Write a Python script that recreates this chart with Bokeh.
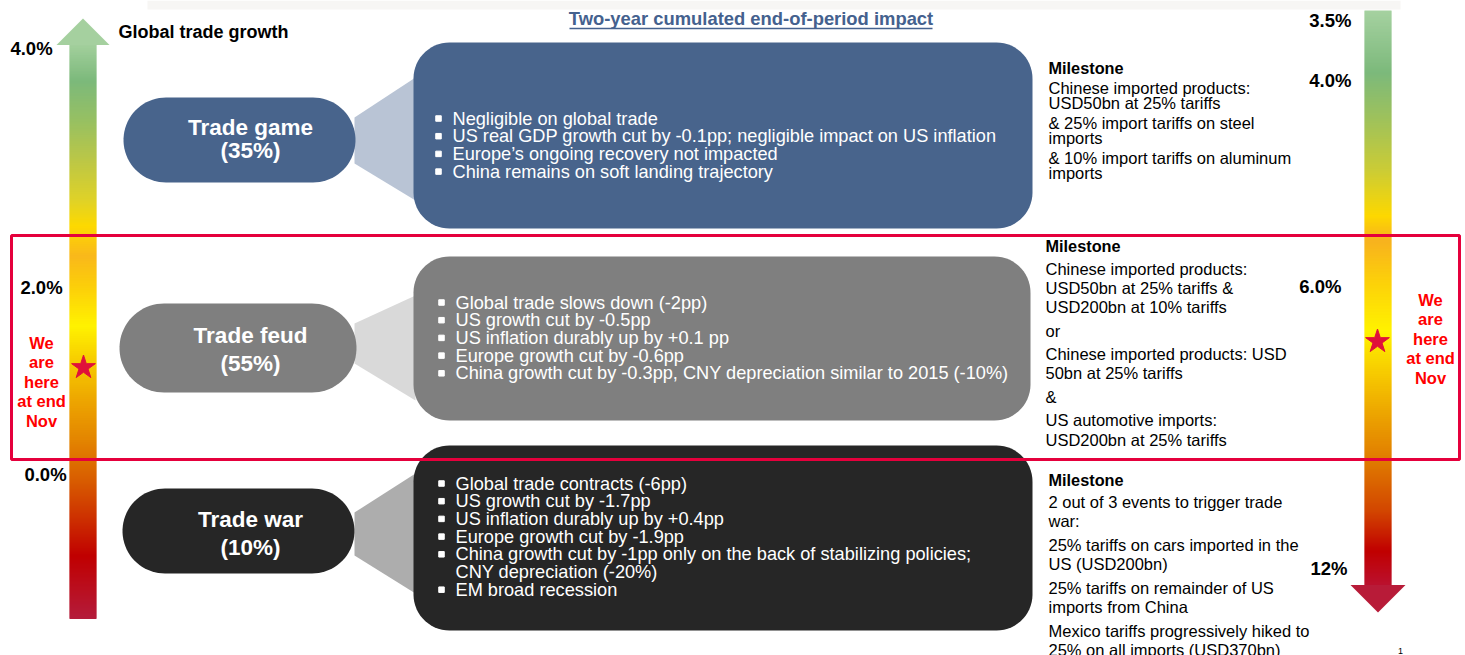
import numpy as np
from bokeh.plotting import figure
from bokeh.models import Range1d
from bokeh.embed import file_html
from bokeh.resources import INLINE
from bokeh.core.properties import value

# ---------------- data ----------------
title_text = "Two-year cumulated end-of-period impact"
axis_title = "Global trade growth"
scenarios = ["Trade game", "Trade feud", "Trade war"]
probabilities = ["(35%)", "(55%)", "(10%)"]
impacts = [
    ["Negligible on global trade",
     "US real GDP growth cut by -0.1pp; negligible impact on US inflation",
     "Europe\u2019s ongoing recovery not impacted",
     "China remains on soft landing trajectory"],
    ["Global trade slows down (-2pp)",
     "US growth cut by -0.5pp",
     "US inflation durably up by +0.1 pp",
     "Europe growth cut by -0.6pp",
     "China growth cut by -0.3pp, CNY depreciation similar to 2015 (-10%)"],
    ["Global trade contracts (-6pp)",
     "US growth cut by -1.7pp",
     "US inflation durably up by +0.4pp",
     "Europe growth cut by -1.9pp",
     "China growth cut by -1pp only on the back of stabilizing policies;\nCNY depreciation  (-20%)",
     "EM broad recession"],
]
milestone_head = "Milestone"
milestones = [
    [["Chinese imported products:", "USD50bn at 25% tariffs"],
     ["& 25% import tariffs on steel", "imports"],
     ["& 10% import tariffs on aluminum", "imports"]],
    [["Chinese imported products:", "USD50bn at 25% tariffs &", "USD200bn at 10% tariffs"],
     ["or"],
     ["Chinese imported products: USD", "50bn at 25% tariffs"],
     ["&"],
     ["US automotive imports:", "USD200bn at 25% tariffs"]],
    [["2 out of 3 events to trigger trade", "war:"],
     ["25% tariffs on cars imported in the", "US (USD200bn)"],
     ["25% tariffs on remainder of US", "imports from China"],
     ["Mexico tariffs progressively hiked to", "25% on all imports (USD370bn)"]],
]
left_scale = ["4.0%", "2.0%", "0.0%"]
right_scale = ["3.5%", "4.0%", "6.0%", "12%"]
here_text = ["We", "are", "here", "at end", "Nov"]
page_no = "1"

# ---------------- styles / layout ----------------
FONT = value("Liberation Sans")
pill_colors = ["#48648c", "#7f7f7f", "#262626"]
conn_colors = ["#b9c4d5", "#d9d9d9", "#adadad"]
box_colors = ["#48648c", "#7f7f7f", "#262626"]
RED = "#e5003c"
STAR = "#e0103a"

pills = [(123, 355, 97, 182), (119, 356, 303, 392), (122, 354, 488, 573)]
pill_text_x = 250
pill_offsets = [(-12.5, 10.5), (-12.5, 15.5), (-11.5, 16.5)]
conns = [((117, 163), (77, 200)), ((323, 363), (295, 400)), ((512, 555), (473, 593))]
boxes = [(413, 1032, 42, 228), (413, 1030, 256, 420), (413, 1032, 445, 630)]
bullet_start = [118, 302, 483]
bullet_text_x = [452, 455, 455]
ms_x = [1048, 1045, 1048]
ms_head_y = [67, 245, 479]
ms_first_gap = [20, 23, 22]
ms_line = [15, 19.3, 19.0]
ms_par_gap = [20, 23.5, 24]

W, H = 1465, 655
p = figure(width=W, height=H, output_backend="svg", toolbar_location=None,
           x_range=Range1d(0, W), y_range=Range1d(H, 0),
           x_axis_location=None, y_axis_location=None, min_border=0)
p.grid.visible = False
p.outline_line_color = None
p.background_fill_color = "white"
p.border_fill_color = "white"


def hex2rgb(h):
    h = h.lstrip("#")
    return np.array([int(h[i:i + 2], 16) for i in (0, 2, 4)], dtype=float)


def ramp(stops, ys):
    sy = np.array([s[0] for s in stops], dtype=float)
    cols = np.array([hex2rgb(s[1]) for s in stops])
    out = []
    for y in ys:
        c = [np.interp(y, sy, cols[:, k]) for k in range(3)]
        out.append("#%02x%02x%02x" % tuple(int(round(v)) for v in c))
    return out


def stadium(x0, x1, y0, y1, n=40):
    r = (y1 - y0) / 2.0
    cy = (y0 + y1) / 2.0
    a = np.linspace(-np.pi / 2, np.pi / 2, n)
    xr = (x1 - r) + r * np.cos(a)
    yr = cy + r * np.sin(a)
    a2 = np.linspace(np.pi / 2, 3 * np.pi / 2, n)
    xl = (x0 + r) + r * np.cos(a2)
    yl = cy + r * np.sin(a2)
    return list(np.r_[xr, xl]), list(np.r_[yr, yl])


def rrect(x0, x1, y0, y1, r, n=16):
    xs, ys = [], []
    for cx, cy, a0 in [(x1 - r, y0 + r, -np.pi / 2), (x1 - r, y1 - r, 0),
                       (x0 + r, y1 - r, np.pi / 2), (x0 + r, y0 + r, np.pi)]:
        a = np.linspace(a0, a0 + np.pi / 2, n)
        xs += list(cx + r * np.cos(a))
        ys += list(cy + r * np.sin(a))
    return xs, ys


# top light band
p.quad(left=147, right=1400, top=0, bottom=9, fill_color="#f7f6f4", line_color=None)

# ---------------- gradient arrows ----------------
left_stops = [(44, "#a2cf9c"), (80, "#7cb97b"), (120, "#97c062"), (160, "#bcc746"),
              (200, "#e0d227"), (225, "#fdd900"), (255, "#f9b81b"), (285, "#fcce0a"),
              (325, "#fff200"), (360, "#f7cc00"), (400, "#eda500"), (440, "#e38400"),
              (480, "#d85c00"), (520, "#cc2d00"), (555, "#c00000"), (618, "#b41c3c")]
ys = np.arange(44, 618, 1.0)
p.quad(left=69, right=96, top=ys, bottom=ys + 1.6, fill_color=ramp(left_stops, ys), line_color=None)
p.patch([56, 82.5, 109], [44.5, 18, 44.5], fill_color="#a5d09f", line_color=None)

right_stops = [(10, "#a5d1a0"), (72, "#7cb97b"), (120, "#a0c25a"), (170, "#cccc35"),
               (215, "#fdd800"), (240, "#f7b21e"), (280, "#fcd00a"), (330, "#fff200"),
               (380, "#f5c300"), (430, "#e89500"), (460, "#e07b00"), (510, "#d24600"),
               (550, "#c00000"), (585, "#ba1230")]
ys2 = np.arange(10, 585, 1.0)
p.quad(left=1364, right=1391, top=ys2, bottom=ys2 + 1.6, fill_color=ramp(right_stops, ys2), line_color=None)
p.patch([1350, 1377.5, 1405], [584.5, 612, 584.5], fill_color="#b81b38", line_color=None)

# ---------------- connectors, pills, boxes ----------------
p.patches([[354, 415, 415, 354] for _ in conns],
          [[c[0][0], c[1][0], c[1][1], c[0][1]] for c in conns],
          fill_color=conn_colors, line_color=None)

pxs, pys = zip(*[stadium(*pl) for pl in pills])
p.patches(list(pxs), list(pys), fill_color=pill_colors, line_color=None)

bxs, bys = zip(*[rrect(*b, r=36) for b in boxes])
p.patches(list(bxs), list(bys), fill_color=box_colors, line_color=None)

# pill labels
for i, (x0, x1, y0, y1) in enumerate(pills):
    cy = (y0 + y1) / 2
    p.text(x=[pill_text_x, pill_text_x], y=[cy + pill_offsets[i][0], cy + pill_offsets[i][1]],
           text=[scenarios[i], probabilities[i]], text_font=FONT, text_font_size="22.5px",
           text_font_style="bold", text_color="white", text_align="center", text_baseline="middle")

# bullets
for i, items in enumerate(impacts):
    y = bullet_start[i]
    bx, by, tx, ty, tt = [], [], [], [], []
    for it in items:
        for k, line in enumerate(it.split("\n")):
            if k == 0:
                bx.append(bullet_text_x[i] - 14)
                by.append(y)
            tx.append(bullet_text_x[i])
            ty.append(y)
            tt.append(line)
            y += 17.7
    p.scatter(x=bx, y=by, marker="square", size=5.5, color="white")
    p.text(x=tx, y=ty, text=tt, text_font=FONT, text_font_size="18.2px", text_color="white",
           text_align="left", text_baseline="middle")

# milestones
for i, pars in enumerate(milestones):
    x = ms_x[i]
    p.text(x=[x], y=[ms_head_y[i]], text=[milestone_head], text_font=FONT, text_font_size="16.3px",
           text_font_style="bold", text_color="black", text_align="left", text_baseline="middle")
    y = ms_head_y[i] + ms_first_gap[i]
    tx, ty, tt = [], [], []
    for j, par in enumerate(pars):
        if j > 0:
            y += ms_par_gap[i] - ms_line[i]
        for line in par:
            tx.append(x)
            ty.append(y)
            tt.append(line)
            y += ms_line[i]
    p.text(x=tx, y=ty, text=tt, text_font=FONT, text_font_size="16.5px", text_color="black",
           text_align="left", text_baseline="middle")

# title
p.text(x=[750.5], y=[18], text=[title_text], text_font=FONT, text_font_size="18.4px",
       text_font_style="bold", text_color="#44618e", text_align="center", text_baseline="middle")
p.segment(x0=[569], x1=[932], y0=[28], y1=[28], line_color="#44618e", line_width=1.3)

# axis title and scale labels
p.text(x=[118], y=[31], text=[axis_title], text_font=FONT, text_font_size="18px",
       text_font_style="bold", text_color="black", text_align="left", text_baseline="middle")
p.text(x=[31, 41, 45], y=[48, 287, 474], text=left_scale, text_font=FONT, text_font_size="18.5px",
       text_font_style="bold", text_color="black", text_align="center", text_baseline="middle")
p.text(x=[1351, 1351, 1341, 1347], y=[20, 80, 286, 568], text=right_scale, text_font=FONT,
       text_font_size="18.5px", text_font_style="bold", text_color="black", text_align="right",
       text_baseline="middle")

# red frame
p.quad(left=11, right=1459, top=235, bottom=459, fill_alpha=0, line_color=RED, line_width=3)

# "we are here"
p.scatter(x=[83, 1377], y=[367, 341], marker="star", size=25, color=STAR)
p.text(x=[41] * 5, y=[342, 361.5, 381, 400.5, 420], text=here_text, text_font=FONT,
       text_font_size="16.5px", text_font_style="bold", text_color="#ff0000",
       text_align="center", text_baseline="middle")
p.text(x=[1430] * 5, y=[299, 318.5, 338, 357.5, 377], text=here_text, text_font=FONT,
       text_font_size="16.5px", text_font_style="bold", text_color="#ff0000",
       text_align="center", text_baseline="middle")

p.text(x=[1400], y=[650], text=[page_no], text_font=FONT, text_font_size="9px",
       text_color="black", text_align="center", text_baseline="middle")

open("out.html", "w").write(file_html(p, INLINE))
